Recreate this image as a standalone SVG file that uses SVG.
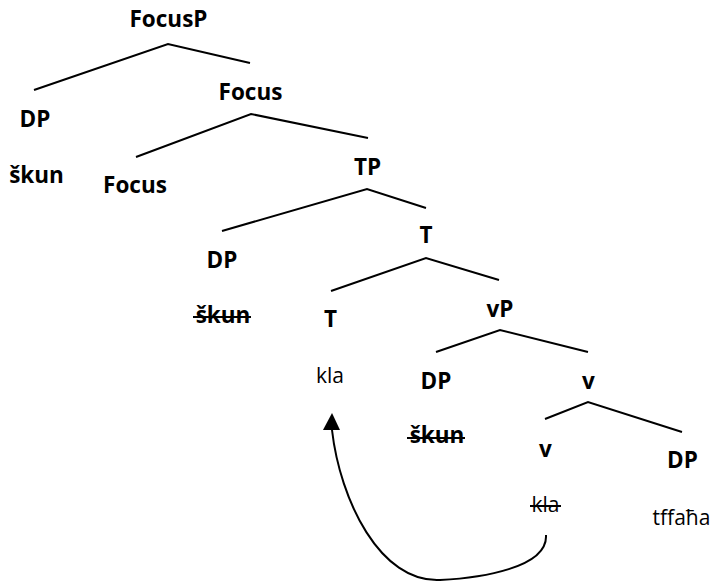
<svg xmlns="http://www.w3.org/2000/svg" width="715" height="583" viewBox="0 0 715 583">
<style>
text{font-family:"Open Sans","DejaVu Sans",sans-serif;font-size:21px;fill:#000;text-anchor:middle}
.b{font-weight:bold;font-size:22.5px}
.e{stroke:#000;stroke-width:2;fill:none}
.s{stroke:#000;stroke-width:2}
</style>
<rect width="715" height="583" fill="#fff"/>
<g id="edges">
<polyline class="e" points="34,90 168,44 250,63"/>
<polyline class="e" points="136,157 251,114 368,138"/>
<polyline class="e" points="222,231 367,189 426,208"/>
<polyline class="e" points="331,291 426,258 499,280"/>
<polyline class="e" points="436,352 500,330 588,352"/>
<polyline class="e" points="545,419 588,402 682,432"/>
<path id="move" class="e" d="M546,535 C548,568 480,578 440,580 C380,583 340,500 332,430"/>
<path d="M323,430 L332,413 L340,430 z" fill="#000"/>
</g>
<g id="n-focusp"><text class="b" x="168.5" y="27">FocusP</text></g>
<g id="n-focus1"><text class="b" x="250.5" y="100">Focus</text></g>
<g id="n-dp1"><text class="b" x="35" y="127">DP</text></g>
<g id="n-skun1"><text class="b" x="36.5" y="183">škun</text></g>
<g id="n-focus2"><text class="b" x="135" y="193">Focus</text></g>
<g id="n-tp"><text class="b" x="367.5" y="175">TP</text></g>
<g id="n-t1"><text class="b" x="426" y="243">T</text></g>
<g id="n-dp2"><text class="b" x="222" y="268">DP</text></g>
<g id="n-skun2"><text class="b" x="223" y="323">škun</text><line class="s" x1="193" y1="317" x2="251" y2="317"/></g>
<g id="n-t2"><text class="b" x="330.5" y="327">T</text></g>
<g id="n-vp"><text class="b" x="500" y="317">vP</text></g>
<g id="n-kla1"><text x="330" y="383">kla</text></g>
<g id="n-dp3"><text class="b" x="436" y="389">DP</text></g>
<g id="n-v1"><text class="b" x="588.5" y="389">v</text></g>
<g id="n-skun3"><text class="b" x="437" y="443">škun</text><line class="s" x1="407" y1="438" x2="465" y2="438"/></g>
<g id="n-v2"><text class="b" x="545.5" y="457">v</text></g>
<g id="n-dp4"><text class="b" x="682.5" y="468">DP</text></g>
<g id="n-kla2"><text x="545.5" y="512">kla</text><line class="s" x1="530" y1="506" x2="561" y2="506" stroke-width="1.5"/></g>
<g id="n-tffaha"><text x="681.5" y="525">tffaħa</text></g>
</svg>
